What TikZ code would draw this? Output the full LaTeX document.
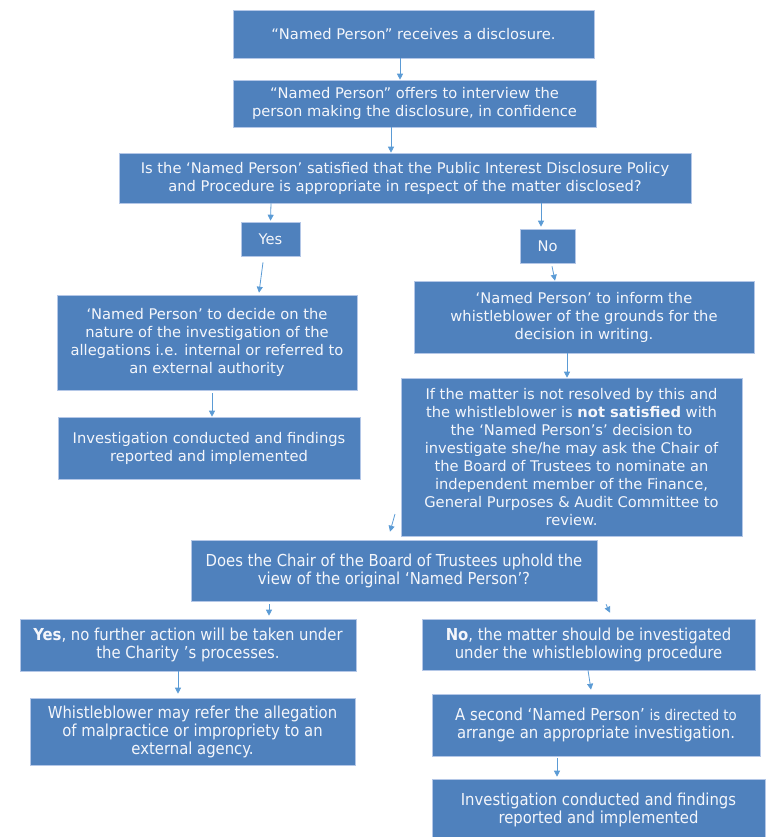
\documentclass[tikz,border=0pt]{standalone}
\usepackage{fontspec}
\setmainfont{DejaVu Sans}
\newfontfamily\condfont{DejaVu Sans Condensed}
\usetikzlibrary{arrows.meta}
\definecolor{boxblue}{HTML}{4F81BD}
\definecolor{boxedge}{HTML}{B4C7E7}
\definecolor{arrowblue}{HTML}{5B9BD5}
\definecolor{boxtext}{HTML}{F4F6FB}
\tikzset{
  box/.style={fill=boxblue, draw=boxedge, line width=0.6pt, text=boxtext,
    align=center, inner sep=0pt, font=\fontsize{14.7}{18}\selectfont},
  lowbox/.style={box, font=\condfont\fontsize{16.5}{18}\selectfont},
  arr/.style={draw=arrowblue, line width=0.8pt, -{Triangle[width=6pt,length=6pt]}}
}
\begin{document}
\begin{tikzpicture}[x=1pt,y=-1pt]
      \useasboundingbox (0,0) rectangle (780,837);
      \node[box, minimum width=361, minimum height=48] (recv) at (413.5,34) {“Named Person” receives a disclosure.};
      \node[box, minimum width=363, minimum height=47] (offer) at (414.5,103.5) {“Named Person” offers to interview the\\person making the disclosure, in confidence};
      \node[box, minimum width=572, minimum height=50] (policy) at (405,178) {Is the ‘Named Person’ satisfied that the Public Interest Disclosure Policy\\and Procedure is appropriate in respect of the matter disclosed?};
      \node[box, minimum width=59, minimum height=34] (yes) at (270.5,239) {Yes};
      \node[box, minimum width=55, minimum height=34] (no) at (547.5,246) {No};
      \node[box, minimum width=300, minimum height=95] (decide) at (207,342.5) {‘Named Person’ to decide on the\\nature of the investigation of the\\allegations i.e. internal or referred to\\an external authority};
      \node[box, minimum width=302, minimum height=62] (findl) at (209,448) {Investigation conducted and findings\\reported and implemented};
      \node[box, minimum width=340, minimum height=72] (inform) at (584,317) {‘Named Person’ to inform the\\whistleblower of the grounds for the\\decision in writing.};
      \node[box, minimum width=341, minimum height=158] (matter) at (571.5,457) {If the matter is not resolved by this and\\the whistleblower is \textbf{not satisfied} with\\the ‘Named Person’s’ decision to\\investigate she/he may ask the Chair of\\the Board of Trustees to nominate an\\independent member of the Finance,\\General Purposes \& Audit Committee to\\review.};
      \node[lowbox, minimum width=406, minimum height=61] (chair) at (394,570.5) {Does the Chair of the Board of Trustees uphold the\\view of the original ‘Named Person’?};
      \node[lowbox, minimum width=336, minimum height=52] (upheld) at (188,645) {\textbf{Yes}, no further action will be taken under\\the Charity ’s processes.};
      \node[lowbox, minimum width=333, minimum height=51] (notupheld) at (588.5,644.5) {\textbf{No}, the matter should be investigated\\under the whistleblowing procedure};
      \node[lowbox, minimum width=325, minimum height=67] (external) at (192.5,731.5) {Whistleblower may refer the allegation\\of malpractice or impropriety to an\\external agency.};
      \node[lowbox, minimum width=328, minimum height=62] (second) at (596,725) {A second ‘Named Person’ {\fontsize{14.8}{18}\selectfont is directed to}\\arrange an appropriate investigation.};
      \node[lowbox, minimum width=333, minimum height=62] (findr) at (598.5,810) {Investigation conducted and findings\\reported and implemented};
      \coordinate (review) at (395,514);
      \draw[arr] ([xshift=-13.5]recv.south) -- ([xshift=-14.5]offer.north);
      \draw[arr] ([xshift=-23.5]offer.south) -- ([xshift=-14]policy.north);
      \draw[arr] ([xshift=-134]policy.south) -- ([yshift=1]yes.north);
      \draw[arr] ([xshift=136]policy.south) -- ([xshift=-6.5,yshift=2]no.north);
      \draw[arr] ([xshift=-7.5,yshift=-6]yes.south) -- ([xshift=52,yshift=2]decide.north);
      \draw[arr] ([xshift=4.5,yshift=-3]no.south) -- ([xshift=-29]inform.north);
      \draw[arr] ([xshift=5,yshift=-3]decide.south) -- ([xshift=3]findl.north);
      \draw[arr] ([xshift=-17]inform.south) -- ([xshift=-4.5]matter.north);
      \draw[arr] (review) -- ([xshift=-4,yshift=8]chair.north);
      \draw[arr] ([xshift=-125,yshift=-3]chair.south) -- ([xshift=81,yshift=3]upheld.north);
      \draw[arr] ([xshift=212,yshift=-3]chair.south) -- ([xshift=21.5,yshift=6]notupheld.north);
      \draw[arr] ([xshift=-10]upheld.south) -- ([xshift=-14.5,yshift=4]external.north);
      \draw[arr] ([xshift=-0.5]notupheld.south) -- ([xshift=-5,yshift=4]second.north);
      \draw[arr] ([xshift=-39,yshift=-2]second.south) -- ([xshift=-41.5,yshift=2]findr.north);
\end{tikzpicture}
\end{document}
